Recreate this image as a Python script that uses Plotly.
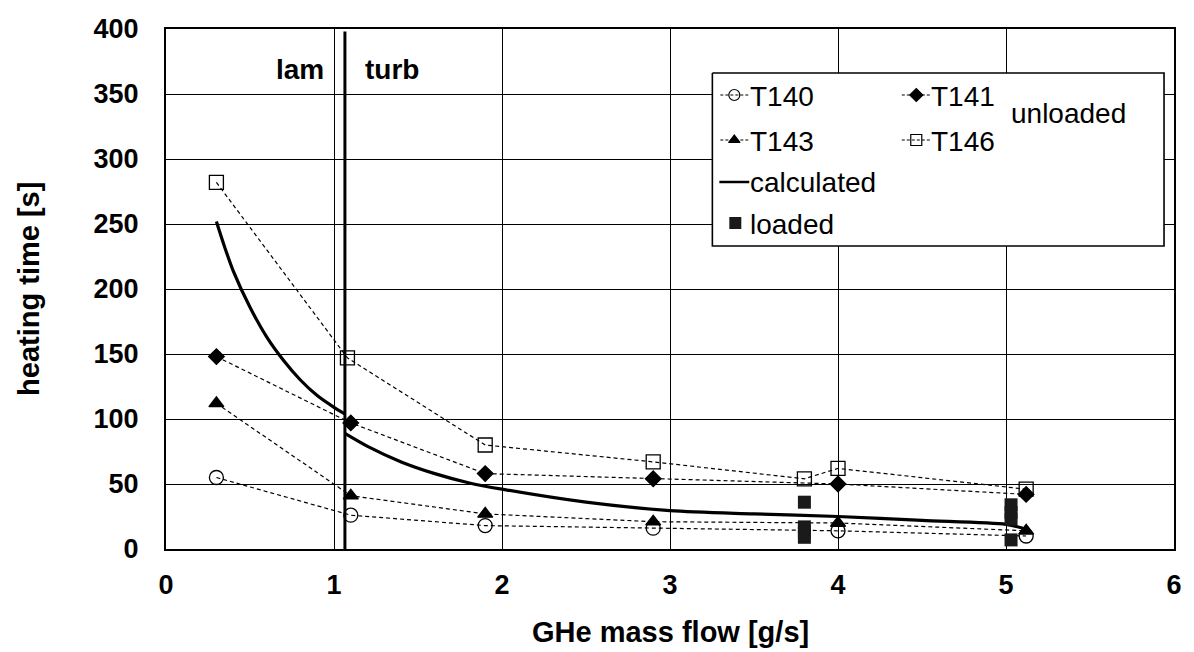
import plotly.graph_objects as go

# ---------------- data ----------------
x_meas = [0.3, 1.1, 1.9, 2.9, 4.0, 5.12]
t140 = [55, 26, 18, 16, 14, 10]
t141 = [148, 97, 58, 54, 50, 42]
t143 = [112, 41, 27, 21, 20, 14]
x_t146 = [0.3, 1.08, 1.9, 2.9, 3.8, 4.0, 5.12]
t146 = [282, 147, 80, 67, 54, 62, 46]

calc_lam_x = [0.30, 0.35, 0.40, 0.50, 0.60, 0.70, 0.80, 0.90, 1.00, 1.065]
calc_lam_y = [252, 232, 214, 186, 163, 145, 130, 118, 109, 104]
calc_turb_x = [1.065, 1.2, 1.4, 1.6, 1.8, 2.0, 2.5, 3.0, 3.5, 4.0, 4.5, 5.0, 5.1]
calc_turb_y = [89, 79, 67, 58, 51, 46, 36, 29.5, 27, 25, 22, 19, 16]

loaded_x = [3.8, 3.8, 3.8, 3.8, 5.03, 5.03, 5.03, 5.03]
loaded_y = [36, 17, 13, 9, 34, 28, 23, 7]

x_ticks = [0, 1, 2, 3, 4, 5, 6]
y_ticks = [0, 50, 100, 150, 200, 250, 300, 350, 400]
transition_x = 1.065

FONT = "Liberation Sans, Arial, sans-serif"
BLK = "black"
DASH = "4px,3px"

fig = go.Figure()

def meas(x, y, sym, size, name):
    fig.add_trace(go.Scatter(
        x=x, y=y, mode="lines+markers", name=name, showlegend=False,
        line=dict(color=BLK, width=1.2, dash=DASH),
        marker=dict(symbol=sym, size=size, color=BLK, line=dict(color=BLK, width=1.3)),
    ))

meas(x_meas, t140, "circle-open", 14, "T140")
meas(x_meas, t141, "diamond", 12, "T141")
meas(x_meas, t143, "triangle-up", 13, "T143")
meas(x_t146, t146, "square-open", 14, "T146")

fig.add_trace(go.Scatter(x=calc_lam_x, y=calc_lam_y, mode="lines", showlegend=False,
                         line=dict(color=BLK, width=3.2, shape="spline", smoothing=0.8)))
fig.add_trace(go.Scatter(x=calc_turb_x, y=calc_turb_y, mode="lines", showlegend=False,
                         line=dict(color=BLK, width=3.2, shape="spline", smoothing=0.8)))
fig.add_trace(go.Scatter(x=loaded_x, y=loaded_y, mode="markers", showlegend=False,
                         marker=dict(symbol="square", size=13, color="#1a1a1a")))

# transition line
fig.add_shape(type="line", xref="x", yref="y", x0=transition_x, x1=transition_x, y0=0, y1=398,
              line=dict(color=BLK, width=3))
fig.add_annotation(x=0.95, y=369, xref="x", yref="y", text="<b>lam</b>", showarrow=False,
                   xanchor="right", yanchor="middle", font=dict(family=FONT, size=28, color=BLK))
fig.add_annotation(x=1.17, y=369, xref="x", yref="y", text="<b>turb</b>", showarrow=False,
                   xanchor="left", yanchor="middle", font=dict(family=FONT, size=28, color=BLK))

# ---------------- manual legend (overlay axes in pixel units) ----------------
LX = "x2"; LY = "y2"
fig.add_trace(go.Scatter(x=[714, 1167, 1167, 714, 714], y=[73, 73, 246, 246, 73],
                         xaxis=LX, yaxis=LY, mode="lines", fill="toself", fillcolor="white",
                         line=dict(color=BLK, width=1.6), showlegend=False, hoverinfo="skip"))

def leg_sample(x0, x1, y, sym, size, dash, lw):
    fig.add_trace(go.Scatter(x=[x0, x1], y=[y, y], xaxis=LX, yaxis=LY, mode="lines",
                             showlegend=False, hoverinfo="skip",
                             line=dict(color=BLK, width=lw, dash=dash)))
    if sym:
        fig.add_trace(go.Scatter(x=[(x0 + x1) / 2], y=[y], xaxis=LX, yaxis=LY, mode="markers",
                                 showlegend=False, hoverinfo="skip",
                                 marker=dict(symbol=sym, size=size, color=BLK,
                                             line=dict(color=BLK, width=1.2))))

def leg_text(x, y, t):
    fig.add_annotation(x=x, y=y, xref=LX, yref=LY, text=t, showarrow=False,
                       xanchor="left", yanchor="middle",
                       font=dict(family=FONT, size=28, color=BLK))

leg_sample(722, 750, 95, "circle-open", 11, "3px,2px", 1.2)
leg_text(750, 96, "T140")
leg_sample(904, 933, 95, "diamond", 10, "3px,2px", 1.2)
leg_text(931, 96, "T141")
leg_sample(722, 750, 140, "triangle-up", 10, "3px,2px", 1.2)
leg_text(750, 141, "T143")
leg_sample(904, 933, 140, "square-open", 11, "3px,2px", 1.2)
leg_text(931, 141, "T146")
leg_sample(721, 751, 182, None, 0, "solid", 2.5)
leg_text(750, 182, "calculated")
fig.add_trace(go.Scatter(x=[737], y=[223], xaxis=LX, yaxis=LY, mode="markers", showlegend=False,
                         hoverinfo="skip", marker=dict(symbol="square", size=12, color="#1a1a1a")))
leg_text(750, 224, "loaded")
leg_text(1012, 113, "unloaded")

# axis titles
fig.add_annotation(x=0.5, y=-0.16, xref="paper", yref="paper", text="<b>GHe mass flow [g/s]</b>",
                   showarrow=False, xanchor="center", yanchor="middle",
                   font=dict(family=FONT, size=29, color=BLK))
fig.add_annotation(x=-0.136, y=0.5, xref="paper", yref="paper", text="<b>heating time [s]</b>",
                   showarrow=False, xanchor="center", yanchor="middle", textangle=-90,
                   font=dict(family=FONT, size=29, color=BLK))

fig.update_layout(
    width=1194, height=652,
    margin=dict(l=166, r=17, t=29, b=103),
    paper_bgcolor="white", plot_bgcolor="white",
    showlegend=False,
    xaxis=dict(range=[0, 6], tickvals=x_ticks, ticktext=[str(v) for v in x_ticks],
               showgrid=True, gridcolor=BLK, gridwidth=1.3, zeroline=False,
               showline=True, linecolor=BLK, linewidth=2, mirror=True, ticks="",
               ticklabelstandoff=11,
               tickfont=dict(family=FONT, size=27, color=BLK, weight="bold")),
    yaxis=dict(range=[0, 400], tickvals=y_ticks, ticktext=[str(v) for v in y_ticks],
               showgrid=True, gridcolor=BLK, gridwidth=1.3, zeroline=False,
               showline=True, linecolor=BLK, linewidth=2, mirror=True, ticks="",
               ticklabelstandoff=20,
               tickfont=dict(family=FONT, size=27, color=BLK, weight="bold")),
    xaxis2=dict(overlaying="x", range=[166, 1177], visible=False, fixedrange=True),
    yaxis2=dict(overlaying="y", range=[549, 29], visible=False, fixedrange=True),
)

fig.write_html("out.html")
